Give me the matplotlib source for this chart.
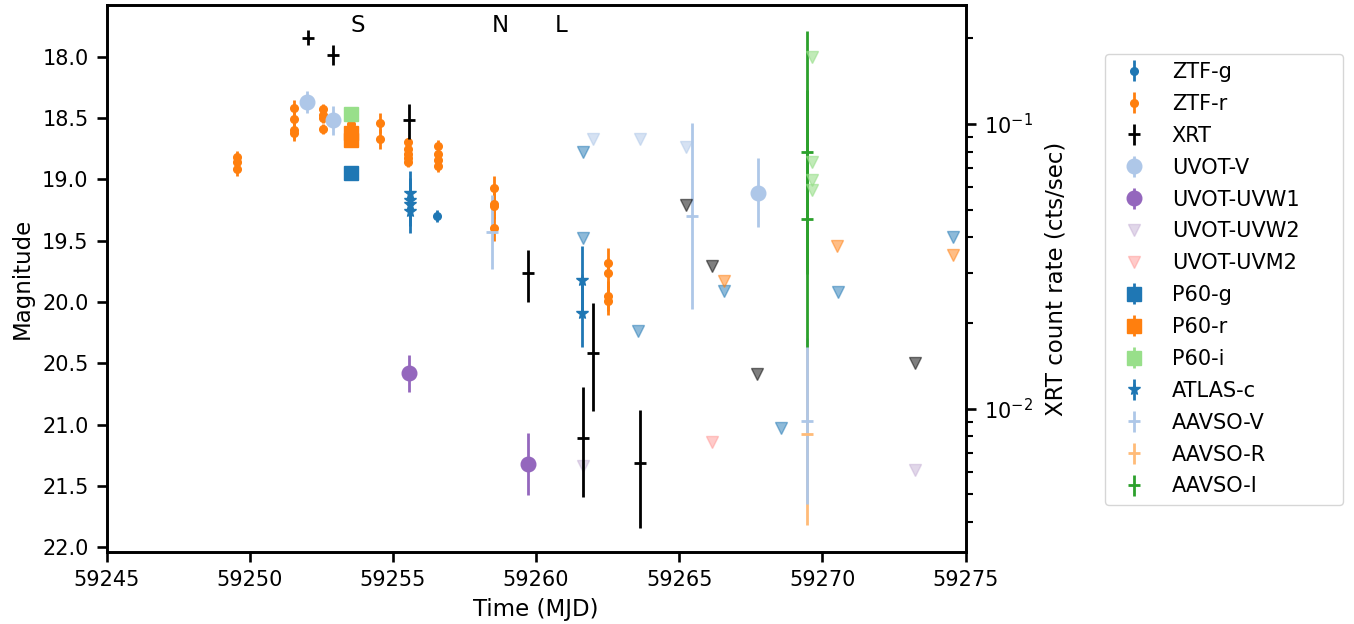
import matplotlib
matplotlib.use("Agg")
import matplotlib.pyplot as plt
import numpy as np

plt.rcParams.update({
    "font.family": ["DejaVu Sans"],
    "font.size": 15,
    "axes.labelsize": 16.5,
    "xtick.labelsize": 15,
    "ytick.labelsize": 15,
    "axes.linewidth": 1.9,
    "xtick.major.size": 7.5, "xtick.major.width": 1.9, "xtick.major.pad": 5.5,
    "ytick.major.size": 7.5, "ytick.major.width": 1.9, "ytick.major.pad": 5.5,
    "ytick.minor.size": 5, "ytick.minor.width": 1.5,
})

# ---------------- data ----------------
ztf_r_mjd = [59249.55, 59249.55, 59249.55,
             59251.55, 59251.55, 59251.55, 59251.55,
             59252.55, 59252.55, 59252.55, 59252.55,
             59253.55, 59253.55,
             59254.55, 59254.55,
             59255.54, 59255.54, 59255.54, 59255.54, 59255.54,
             59256.56, 59256.56, 59256.56, 59256.56,
             59258.54, 59258.54, 59258.54, 59258.54,
             59262.53, 59262.53, 59262.53, 59262.53]
ztf_r_mag = [18.82, 18.86, 18.92,
             18.42, 18.51, 18.60, 18.62,
             18.43, 18.48, 18.50, 18.59,
             18.49, 18.55,
             18.54, 18.67,
             18.70, 18.75, 18.79, 18.83, 18.86,
             18.73, 18.79, 18.84, 18.89,
             19.07, 19.20, 19.22, 19.40,
             19.68, 19.76, 19.95, 19.99]
ztf_r_err = [0.05, 0.05, 0.05,
             0.07, 0.07, 0.07, 0.07,
             0.04, 0.04, 0.04, 0.04,
             0.06, 0.06,
             0.08, 0.08,
             0.04, 0.04, 0.04, 0.04, 0.04,
             0.05, 0.05, 0.05, 0.05,
             0.10, 0.10, 0.10, 0.10,
             0.12, 0.12, 0.12, 0.12]

ztf_g_mjd = [59256.53]
ztf_g_mag = [19.30]
ztf_g_err = [0.05]

ztf_g_lim_mjd = [59261.65, 59261.65, 59263.55, 59266.55, 59268.55, 59270.55, 59274.55]
ztf_g_lim_mag = [18.78, 19.48, 20.24, 19.91, 21.03, 19.92, 19.47]
ztf_r_lim_mjd = [59266.55, 59270.50, 59274.55]
ztf_r_lim_mag = [19.83, 19.54, 19.62]

xrt_mjd = [59252.02, 59252.91, 59255.57, 59259.73, 59261.65, 59261.98, 59263.64]
xrt_rate = [0.2004, 0.175, 0.1033, 0.0300, 0.00788, 0.0157, 0.00642]
xrt_err_lo = [0.0117, 0.0135, 0.0150, 0.0063, 0.0030, 0.0059, 0.0026]
xrt_err_hi = [0.0127, 0.0140, 0.0142, 0.0060, 0.0040, 0.0078, 0.0035]
xrt_lim_mjd = [59265.23, 59266.15, 59267.73, 59273.25]
xrt_lim_rate = [0.0519, 0.0316, 0.0132, 0.0145]

uvot_v_mjd = [59252.00, 59252.91, 59267.74]
uvot_v_mag = [18.37, 18.52, 19.11]
uvot_v_err = [0.09, 0.12, 0.28]
uvot_v_lim_mjd = [59261.98, 59263.64, 59265.23]
uvot_v_lim_mag = [18.67, 18.67, 18.74]

uvot_w1_mjd = [59255.57, 59259.73]
uvot_w1_mag = [20.58, 21.32]
uvot_w1_err = [0.15, 0.25]

uvot_w2_lim_mjd = [59261.65, 59273.25]
uvot_w2_lim_mag = [21.34, 21.37]
uvot_m2_lim_mjd = [59266.15]
uvot_m2_lim_mag = [21.14]

p60_g_mjd = [59253.55]
p60_g_mag = [18.95]
p60_g_err = [0.03]
p60_r_mjd = [59253.55, 59253.55]
p60_r_mag = [18.62, 18.68]
p60_r_err = [0.06, 0.06]
p60_i_mjd = [59253.55]
p60_i_mag = [18.47]
p60_i_err = [0.03]
p60_i_lim_mjd = [59269.65, 59269.65, 59269.65, 59269.65]
p60_i_lim_mag = [18.00, 18.86, 19.01, 19.09]

atlas_mjd = [59255.60, 59255.60, 59255.60, 59255.60, 59261.62, 59261.62]
atlas_mag = [19.11, 19.17, 19.20, 19.26, 19.82, 20.09]
atlas_err = [0.18, 0.18, 0.18, 0.18, 0.28, 0.28]

aavso_v_mjd = [59258.45, 59265.45, 59269.47]
aavso_v_mag = [19.43, 19.30, 20.97]
aavso_v_err = [0.30, 0.76, 0.68]
aavso_r_mjd = [59269.47]
aavso_r_mag = [21.08]
aavso_r_err = [0.74]
aavso_i_mjd = [59269.47, 59269.47]
aavso_i_mag = [18.78, 19.32]
aavso_i_err = [0.99, 1.05]

spec_mjd = [59253.79, 59258.74, 59260.87]
spec_lbl = ["S", "N", "L"]

# ---------------- colours ----------------
c_blue = "#1f77b4"
c_orange = "#ff7f0e"
c_ltblue = "#aec7e8"
c_purple = "#9467bd"
c_lav = "#c5b0d5"
c_pink = "#ff9896"
c_ltgreen = "#98df8a"
c_ltorange = "#ffbb78"
c_green = "#2ca02c"

fig = plt.figure(figsize=(13.54, 6.24), dpi=100)
ax = fig.add_axes([0.0787, 0.1154, 0.6344, 0.8761])
ax2 = ax.twinx()

ew = 2.0
h = {}
h["ZTF-g"] = ax.errorbar(ztf_g_mjd, ztf_g_mag, yerr=ztf_g_err, fmt="o", color=c_blue, ms=5.5, elinewidth=ew)
h["ZTF-r"] = ax.errorbar(ztf_r_mjd, ztf_r_mag, yerr=ztf_r_err, fmt="o", color=c_orange, ms=5.5, elinewidth=ew)
h["UVOT-V"] = ax.errorbar(uvot_v_mjd, uvot_v_mag, yerr=uvot_v_err, fmt="o", color=c_ltblue, ms=10.5, elinewidth=ew)
h["UVOT-UVW1"] = ax.errorbar(uvot_w1_mjd, uvot_w1_mag, yerr=uvot_w1_err, fmt="o", color=c_purple, ms=10.5, elinewidth=ew)
h["UVOT-UVW2"], = ax.plot(uvot_w2_lim_mjd, uvot_w2_lim_mag, ls="none", marker="v", color=c_lav, alpha=0.5, ms=8.5)
h["UVOT-UVM2"], = ax.plot(uvot_m2_lim_mjd, uvot_m2_lim_mag, ls="none", marker="v", color=c_pink, alpha=0.5, ms=8.5)
h["P60-g"] = ax.errorbar(p60_g_mjd, p60_g_mag, yerr=p60_g_err, fmt="s", color=c_blue, ms=9.5, elinewidth=ew)
h["P60-r"] = ax.errorbar(p60_r_mjd, p60_r_mag, yerr=p60_r_err, fmt="s", color=c_orange, ms=9.5, elinewidth=ew)
h["P60-i"] = ax.errorbar(p60_i_mjd, p60_i_mag, yerr=p60_i_err, fmt="s", color=c_ltgreen, ms=9.5, elinewidth=ew)
h["ATLAS-c"] = ax.errorbar(atlas_mjd, atlas_mag, yerr=atlas_err, fmt="*", color=c_blue, ms=8.5, elinewidth=ew)
h["AAVSO-R"] = ax.errorbar(aavso_r_mjd, aavso_r_mag, yerr=aavso_r_err, fmt="_", color=c_ltorange, ms=9, mew=2, elinewidth=ew)
h["AAVSO-V"] = ax.errorbar(aavso_v_mjd, aavso_v_mag, yerr=aavso_v_err, fmt="_", color=c_ltblue, ms=9, mew=2, elinewidth=ew)
h["AAVSO-I"] = ax.errorbar(aavso_i_mjd, aavso_i_mag, yerr=aavso_i_err, fmt="_", color=c_green, ms=9, mew=2, elinewidth=ew)

# upper limits
ax.plot(ztf_g_lim_mjd, ztf_g_lim_mag, ls="none", marker="v", color=c_blue, alpha=0.5, ms=8.5)
ax.plot(ztf_r_lim_mjd, ztf_r_lim_mag, ls="none", marker="v", color=c_orange, alpha=0.5, ms=8.5)
ax.plot(uvot_v_lim_mjd, uvot_v_lim_mag, ls="none", marker="v", color=c_ltblue, alpha=0.5, ms=8.5)
ax.plot(p60_i_lim_mjd, p60_i_lim_mag, ls="none", marker="v", color=c_ltgreen, alpha=0.6, ms=8.5)

# XRT on right axis
h["XRT"] = ax2.errorbar(xrt_mjd, xrt_rate, yerr=[xrt_err_lo, xrt_err_hi], fmt="_", color="black",
                        ms=9, mew=2, elinewidth=ew)
ax2.plot(xrt_lim_mjd, xrt_lim_rate, ls="none", marker="v", color="black", alpha=0.5, ms=8.5)

for xm, t in zip(spec_mjd, spec_lbl):
    ax.text(xm, 17.75, t, fontsize=16.5, ha="center", va="center")

ax.set_xlim(59245, 59275)
ax.set_ylim(22.038, 17.582)
ax.set_xticks(np.arange(59245, 59276, 5))
ax.set_yticks(np.arange(18.0, 22.01, 0.5))
ax.set_xlabel("Time (MJD)", labelpad=6)
ax.set_ylabel("Magnitude", labelpad=6)

ax2.set_yscale("log")
ax2.set_ylim(0.003135, 0.2612)
ax2.set_ylabel("XRT count rate (cts/sec)", labelpad=9)

order = ["ZTF-g", "ZTF-r", "XRT", "UVOT-V", "UVOT-UVW1", "UVOT-UVW2", "UVOT-UVM2",
         "P60-g", "P60-r", "P60-i", "ATLAS-c", "AAVSO-V", "AAVSO-R", "AAVSO-I"]
ax2.legend([h[k] for k in order], order, loc="center left", mode="expand",
           bbox_to_anchor=(1.1503, 0.499, 0.3012, 0.0), fontsize=15, labelspacing=0.57)

fig.savefig("out.png", dpi=100)
